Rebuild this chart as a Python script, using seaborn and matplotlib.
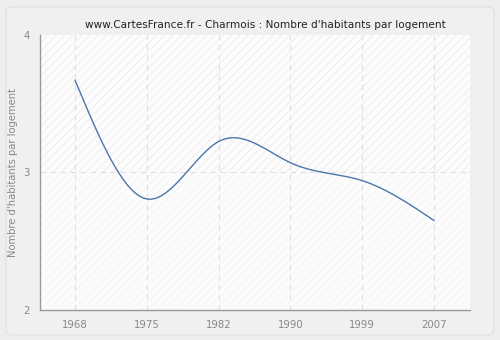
import numpy as np
import pandas as pd
import matplotlib
matplotlib.use("Agg")
import matplotlib.pyplot as plt
from matplotlib.patches import FancyBboxPatch
import seaborn as sns

years = ["1968", "1975", "1982", "1990", "1999", "2007"]
habitants_par_logement = [3.67, 2.807, 3.224, 3.07, 2.94, 2.65]
title = "www.CartesFrance.fr - Charmois : Nombre d'habitants par logement"
ylabel = "Nombre d'habitants par logement"


def natural_spline(x, y, n=400):
    """Smooth curve through the points (natural cubic spline)."""
    x = np.asarray(x, float)
    y = np.asarray(y, float)
    k = len(x)
    h = np.diff(x)
    A = np.zeros((k, k))
    b = np.zeros(k)
    A[0, 0] = A[-1, -1] = 1
    for i in range(1, k - 1):
        A[i, i - 1] = h[i - 1]
        A[i, i] = 2 * (h[i - 1] + h[i])
        A[i, i + 1] = h[i]
        b[i] = 3 * ((y[i + 1] - y[i]) / h[i] - (y[i] - y[i - 1]) / h[i - 1])
    c = np.linalg.solve(A, b)
    xs = np.linspace(x[0], x[-1], n)
    idx = np.clip(np.searchsorted(x, xs) - 1, 0, k - 2)
    dx = xs - x[idx]
    hi = h[idx]
    bi = (y[idx + 1] - y[idx]) / hi - hi * (2 * c[idx] + c[idx + 1]) / 3
    di = (c[idx + 1] - c[idx]) / (3 * hi)
    ys = y[idx] + bi * dx + c[idx] * dx ** 2 + di * dx ** 3
    return xs, ys


# census years are placed at evenly spaced positions
pos = np.arange(len(years))
xs, ys = natural_spline(pos, habitants_par_logement)
curve = pd.DataFrame({"position": xs, "valeur": ys})

sns.set_style("white")
plt.rcParams["font.family"] = ["DejaVu Sans"]
plt.rcParams["hatch.linewidth"] = 0.6

fig = plt.figure(figsize=(5.0, 3.4), dpi=100)
fig.patch.set_facecolor("#eeeeee")
frame = FancyBboxPatch((0.012, 0.015), 0.976, 0.965, boxstyle="round,pad=0,rounding_size=0.015",
                       transform=fig.transFigure, facecolor="#f0f0f0", edgecolor="#e2e2e2",
                       linewidth=1.0, zorder=-10)
fig.patches.append(frame)

ax = fig.add_axes([0.08, 0.088, 0.86, 0.81])
ax.set_facecolor("#fcfcfc")
xmin, xmax = -0.487, 5.5
ax.set_xlim(xmin, xmax)
ax.set_ylim(2, 4)

# hatched background, a little stronger above 3
ax.fill_between([xmin, xmax], 3, 4, facecolor="none", edgecolor="#ebebeb",
                hatch="////", linewidth=0, zorder=0)
ax.fill_between([xmin, xmax], 2, 3, facecolor="none", edgecolor="#f4f4f4",
                hatch="////", linewidth=0, zorder=0)

for p in pos:
    ax.axvline(p, color="#e0e0e0", linestyle=(0, (5, 4)), linewidth=0.8, zorder=1)
ax.axhline(3, color="#e0e0e0", linestyle=(0, (5, 4)), linewidth=0.8, zorder=1)

sns.lineplot(data=curve, x="position", y="valeur", ax=ax, color="#4a77aa", linewidth=1.0, zorder=3)

ax.set_xticks(pos)
ax.set_xticklabels(years)
ax.set_yticks([2, 3, 4])
ax.set_yticklabels(["2", "3", "4"])
ax.tick_params(axis="both", colors="#888888", labelcolor="#888888", labelsize=7.3,
               length=4, width=0.8, direction="out")
for side in ["top", "right"]:
    ax.spines[side].set_visible(False)
for side in ["left", "bottom"]:
    ax.spines[side].set_color("#999999")
    ax.spines[side].set_linewidth(1.0)

ax.set_xlabel("")
ax.set_ylabel(ylabel, color="#888888", fontsize=7.2)
fig.text(0.53, 0.925, title, ha="center", va="center", fontsize=7.6, color="#222222")

fig.savefig("out.png", dpi=100, facecolor=fig.get_facecolor())
